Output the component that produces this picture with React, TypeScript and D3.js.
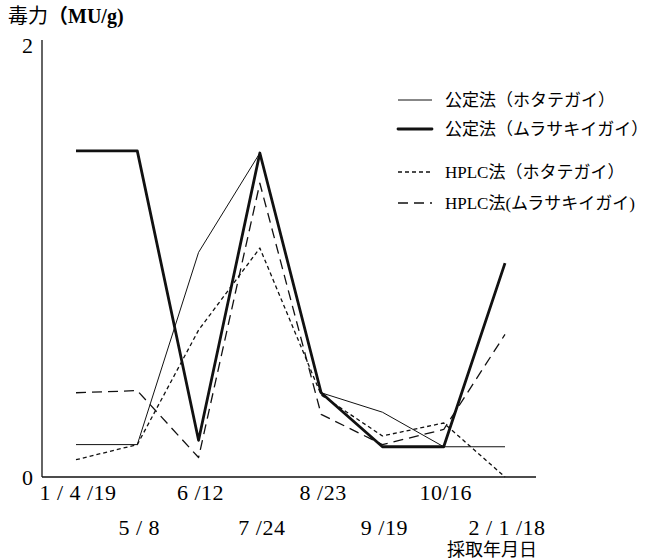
import React, { useEffect, useRef } from "react";
import * as d3 from "d3";

// sampling dates (equally spaced categories)
const dates = ["1 / 4 /19", "5 / 8", "6 /12", "7 /24", "8 /23", "9 /19", "10/16", "2 / 1 /18"];

// toxicity, MU/g
const officialScallop = [0.15, 0.15, 1.04, 1.5, 0.39, 0.3, 0.14, 0.14];
const officialMussel = [1.51, 1.51, 0.17, 1.5, 0.39, 0.14, 0.14, 0.99];
const hplcScallop = [0.08, 0.15, 0.68, 1.06, 0.38, 0.19, 0.25, 0.0];
const hplcMussel = [0.39, 0.4, 0.09, 1.36, 0.29, 0.15, 0.22, 0.66];

const seriesNames = [
    "公定法（ホタテガイ）",
    "公定法（ムラサキイガイ）",
    "HPLC法（ホタテガイ）",
    "HPLC法(ムラサキイガイ)",
];

const yTicks = [0, 2];

const FONT = "'Liberation Serif', 'DejaVu Serif', 'Noto Sans CJK JP', serif";

const styles = [
    { width: 1, dash: null },
    { width: 2.8, dash: null },
    { width: 1.3, dash: "4,3" },
    { width: 1.3, dash: "10,6" },
];

const App = () => {
    const ref = useRef(null);
    const width = 658;
    const height = 559;

    useEffect(() => {
        const svg = d3.select(ref.current);
        svg.selectAll("*").remove();

        const x = d3.scalePoint().domain(dates).range([76, 505]);
        const y = d3.scaleLinear().domain([0, 2]).range([477, 45]);

        const series = [officialScallop, officialMussel, hplcScallop, hplcMussel];

        // axes
        svg.append("line")
            .attr("x1", 42).attr("x2", 42)
            .attr("y1", 40).attr("y2", y(0))
            .attr("stroke", "#111").attr("stroke-width", 1.3);
        svg.append("line")
            .attr("x1", 42).attr("x2", 536)
            .attr("y1", y(0)).attr("y2", y(0))
            .attr("stroke", "#111").attr("stroke-width", 1.6);

        svg.selectAll("text.ytick")
            .data(yTicks)
            .enter()
            .append("text")
            .attr("class", "ytick")
            .attr("x", 33)
            .attr("y", d => y(d) + 8)
            .attr("text-anchor", "end")
            .style("font-family", FONT)
            .style("font-size", "22px")
            .text(d => d);

        svg.selectAll("text.xtick")
            .data(dates)
            .enter()
            .append("text")
            .attr("class", "xtick")
            .attr("x", d => x(d) + 2)
            .attr("y", (d, i) => (i % 2 === 0 ? 500 : 535))
            .attr("text-anchor", "middle")
            .style("font-family", FONT)
            .style("font-size", "22px")
            .style("letter-spacing", "0.5px")
            .text(d => d);

        svg.append("text")
            .attr("x", 8).attr("y", 23)
            .style("font-family", FONT)
            .style("font-size", "20px")
            .text("毒力")
            .append("tspan")
            .style("font-weight", "bold")
            .text("（MU/g)");

        svg.append("text")
            .attr("x", 537).attr("y", 556)
            .attr("text-anchor", "end")
            .style("font-family", FONT)
            .style("font-size", "18px")
            .text("採取年月日");

        // lines
        const line = d3.line()
            .x((d, i) => x(dates[i]))
            .y(d => y(d));

        series.forEach((s, k) => {
            svg.append("path")
                .attr("d", line(s))
                .attr("fill", "none")
                .attr("stroke", "#111")
                .attr("stroke-width", styles[k].width)
                .attr("stroke-dasharray", styles[k].dash)
                .attr("stroke-linejoin", "round");
        });

        // legend
        const legendY = [100, 129, 172, 203];
        const legend = svg.selectAll("g.legend")
            .data(seriesNames)
            .enter()
            .append("g")
            .attr("class", "legend")
            .attr("transform", (d, i) => `translate(0, ${legendY[i]})`);

        legend.append("line")
            .attr("x1", 398).attr("x2", 432)
            .attr("y1", 0).attr("y2", 0)
            .attr("stroke", "#111")
            .attr("stroke-width", (d, i) => styles[i].width)
            .attr("stroke-dasharray", (d, i) => styles[i].dash)
            .attr("stroke-linecap", (d, i) => (i === 1 ? "round" : "butt"));

        legend.append("text")
            .attr("x", 445)
            .attr("y", 6)
            .style("font-family", FONT)
            .style("font-size", "17px")
            .text(d => d);
    }, []);

    return (
        <svg
            ref={ref}
            width={width}
            height={height}
            style={{ position: "absolute", left: 0, top: 0, background: "#fff" }}
        />
    );
};

export default App;
